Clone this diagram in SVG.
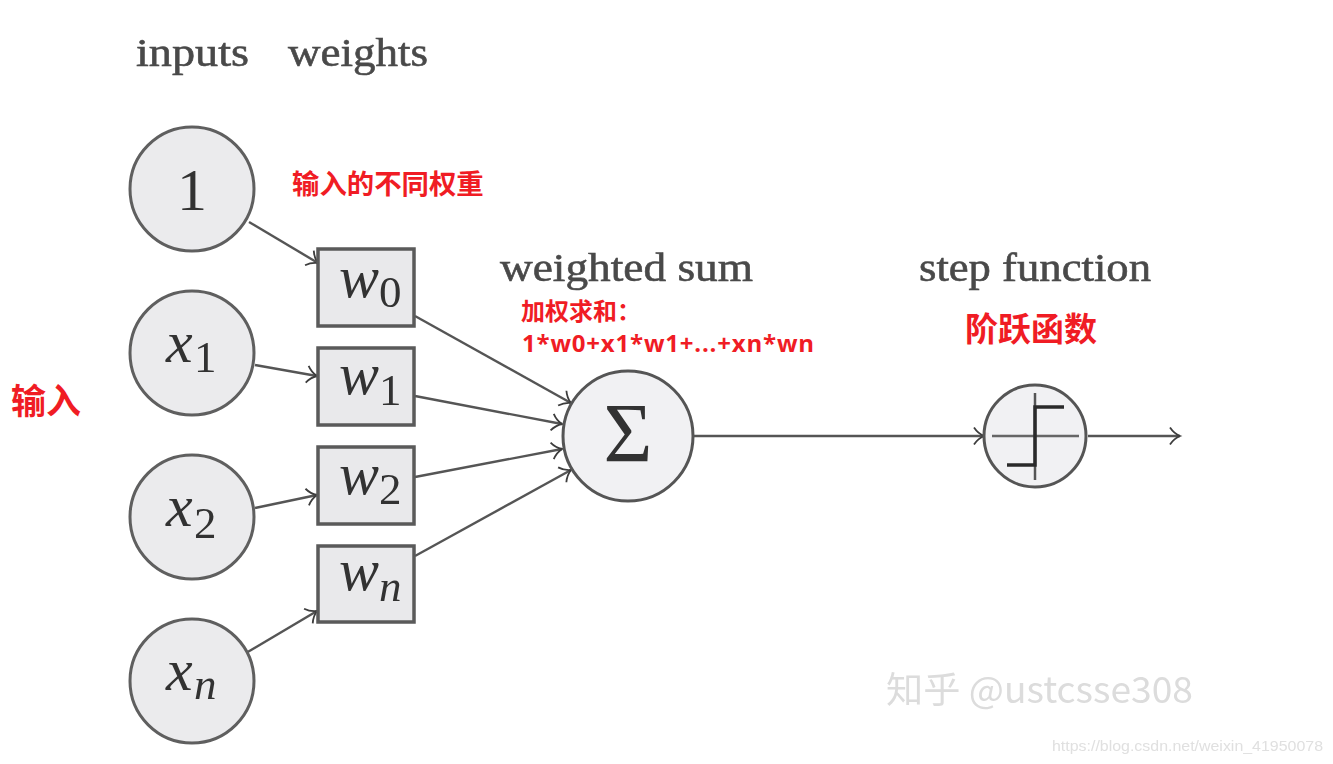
<svg xmlns="http://www.w3.org/2000/svg" width="1333" height="764" viewBox="0 0 1333 764">
<defs>
<marker id="a" markerUnits="userSpaceOnUse" markerWidth="16" markerHeight="22" refX="13" refY="11" orient="auto"><path d="M3 2.500 Q7 8.500 13 11 Q7 13.500 3 19.500" fill="none" stroke="#3c3c3c" stroke-width="1.800"/></marker>
<filter id="soft" x="-2%" y="-2%" width="104%" height="104%"><feGaussianBlur stdDeviation="0.700"/></filter>
</defs>
<style>
.c{fill:#ebebed;stroke:#5f5f5f;stroke-width:3}
.r{fill:#e9e9eb;stroke:#5a5a5a;stroke-width:3.500}
.l{fill:none;stroke:#555;stroke-width:2.400;marker-end:url(#a)}
.t{font-family:"Liberation Serif","DejaVu Serif",serif;fill:#333}
.h{font-size:41px;fill:#4a4a4a;stroke:#4a4a4a;stroke-width:.6}
.m{font-size:60px;font-style:italic;fill:#333}
.n{font-size:45px;fill:#333}
.i{font-style:italic}
.z{font-family:"Noto Sans CJK SC","Noto Sans",sans-serif;font-weight:700;fill:#f01c24}
</style>
<rect width="1333" height="764" fill="#fff"/>
<g filter="url(#soft)">
<g id="connectors">
<line class="l" x1="249" y1="222" x2="318" y2="263"/>
<line class="l" x1="255" y1="365" x2="317" y2="376"/>
<line class="l" x1="255" y1="508" x2="317" y2="495"/>
<line class="l" x1="246" y1="653" x2="317" y2="611"/>
<line class="l" x1="415" y1="316" x2="571" y2="403"/>
<line class="l" x1="415" y1="396" x2="562" y2="424"/>
<line class="l" x1="415" y1="477" x2="562" y2="449"/>
<line class="l" x1="415" y1="556" x2="571" y2="470"/>
<line class="l" x1="694" y1="436" x2="984" y2="436"/>
<line class="l" x1="1088" y1="436" x2="1180" y2="436"/>
</g>
<g id="head-inputs"><text class="t h" x="136" y="66" textLength="113" lengthAdjust="spacingAndGlyphs">inputs</text></g>
<g id="head-weights"><text class="t h" x="288" y="66" textLength="140" lengthAdjust="spacingAndGlyphs">weights</text></g>
<g id="node-1"><circle class="c" cx="192" cy="189" r="62"/><text class="t" x="192" y="210" text-anchor="middle" font-size="60">1</text></g>
<g id="node-x1"><circle class="c" cx="192" cy="353" r="62"/><text class="t m" x="166" y="362">x</text><text class="t n" x="194" y="372">1</text></g>
<g id="node-x2"><circle class="c" cx="192" cy="517" r="62"/><text class="t m" x="166" y="526">x</text><text class="t n" x="194" y="538">2</text></g>
<g id="node-xn"><circle class="c" cx="192" cy="681" r="62"/><text class="t m" x="166" y="690">x</text><text class="t n i" x="194" y="699">n</text></g>
<g id="node-w0"><rect class="r" x="318" y="249" width="96" height="77"/><text class="t m" x="339" y="297">w</text><text class="t n" x="379" y="307">0</text></g>
<g id="node-w1"><rect class="r" x="318" y="348" width="96" height="77"/><text class="t m" x="339" y="394">w</text><text class="t n" x="379" y="405">1</text></g>
<g id="node-w2"><rect class="r" x="318" y="447" width="96" height="77"/><text class="t m" x="339" y="494">w</text><text class="t n" x="379" y="504">2</text></g>
<g id="node-wn"><rect class="r" x="318" y="546" width="96" height="76"/><text class="t m" x="339" y="590">w</text><text class="t n i" x="379" y="601">n</text></g>
<g id="node-sum"><circle cx="628" cy="436" r="65" fill="#f1f1f3" stroke="#555" stroke-width="3"/><text class="t" x="628" y="462" text-anchor="middle" font-size="84" fill="#222">Σ</text></g>
<g id="node-step"><circle cx="1035" cy="436" r="51" fill="#f1f1f3" stroke="#555" stroke-width="3"/>
<path d="M992 436H1079" fill="none" stroke="#666" stroke-width="2.500"/>
<path d="M1035 393V480" fill="none" stroke="#555" stroke-width="2.500"/>
<path d="M1007 465H1035V407H1064" fill="none" stroke="#2a2a2a" stroke-width="3.500"/></g>
<g id="label-sum"><text class="t h" x="500" y="281" textLength="253" lengthAdjust="spacingAndGlyphs">weighted sum</text></g>
<g id="label-step"><text class="t h" x="919" y="281" textLength="232" lengthAdjust="spacingAndGlyphs">step function</text></g>
<g id="watermark"><text x="886" y="703" font-family="'Noto Sans CJK SC','Noto Sans',sans-serif" font-size="36" fill="#dcdcdc" textLength="307" lengthAdjust="spacingAndGlyphs">知乎 @ustcsse308</text><text x="1052" y="751" font-family="'Liberation Sans',sans-serif" font-size="15.500" fill="#e0e0e0" textLength="271" lengthAdjust="spacingAndGlyphs">https://blog.csdn.net/weixin_41950078</text></g>
</g>
<g id="note-input"><text class="z" x="11" y="414" font-size="35">输入</text></g>
<g id="note-weights"><text class="z" x="292" y="194" font-size="27.400">输入的不同权重</text></g>
<g id="note-sum"><text class="z" x="521" y="320" font-size="24">加权求和：</text><text class="z" x="522" y="352" font-size="24" style="font-family:'Open Sans','Noto Sans',sans-serif" textLength="292">1*w0+x1*w1+...+xn*wn</text></g>
<g id="note-step"><text class="z" x="965" y="341" font-size="33">阶跃函数</text></g>
</svg>
